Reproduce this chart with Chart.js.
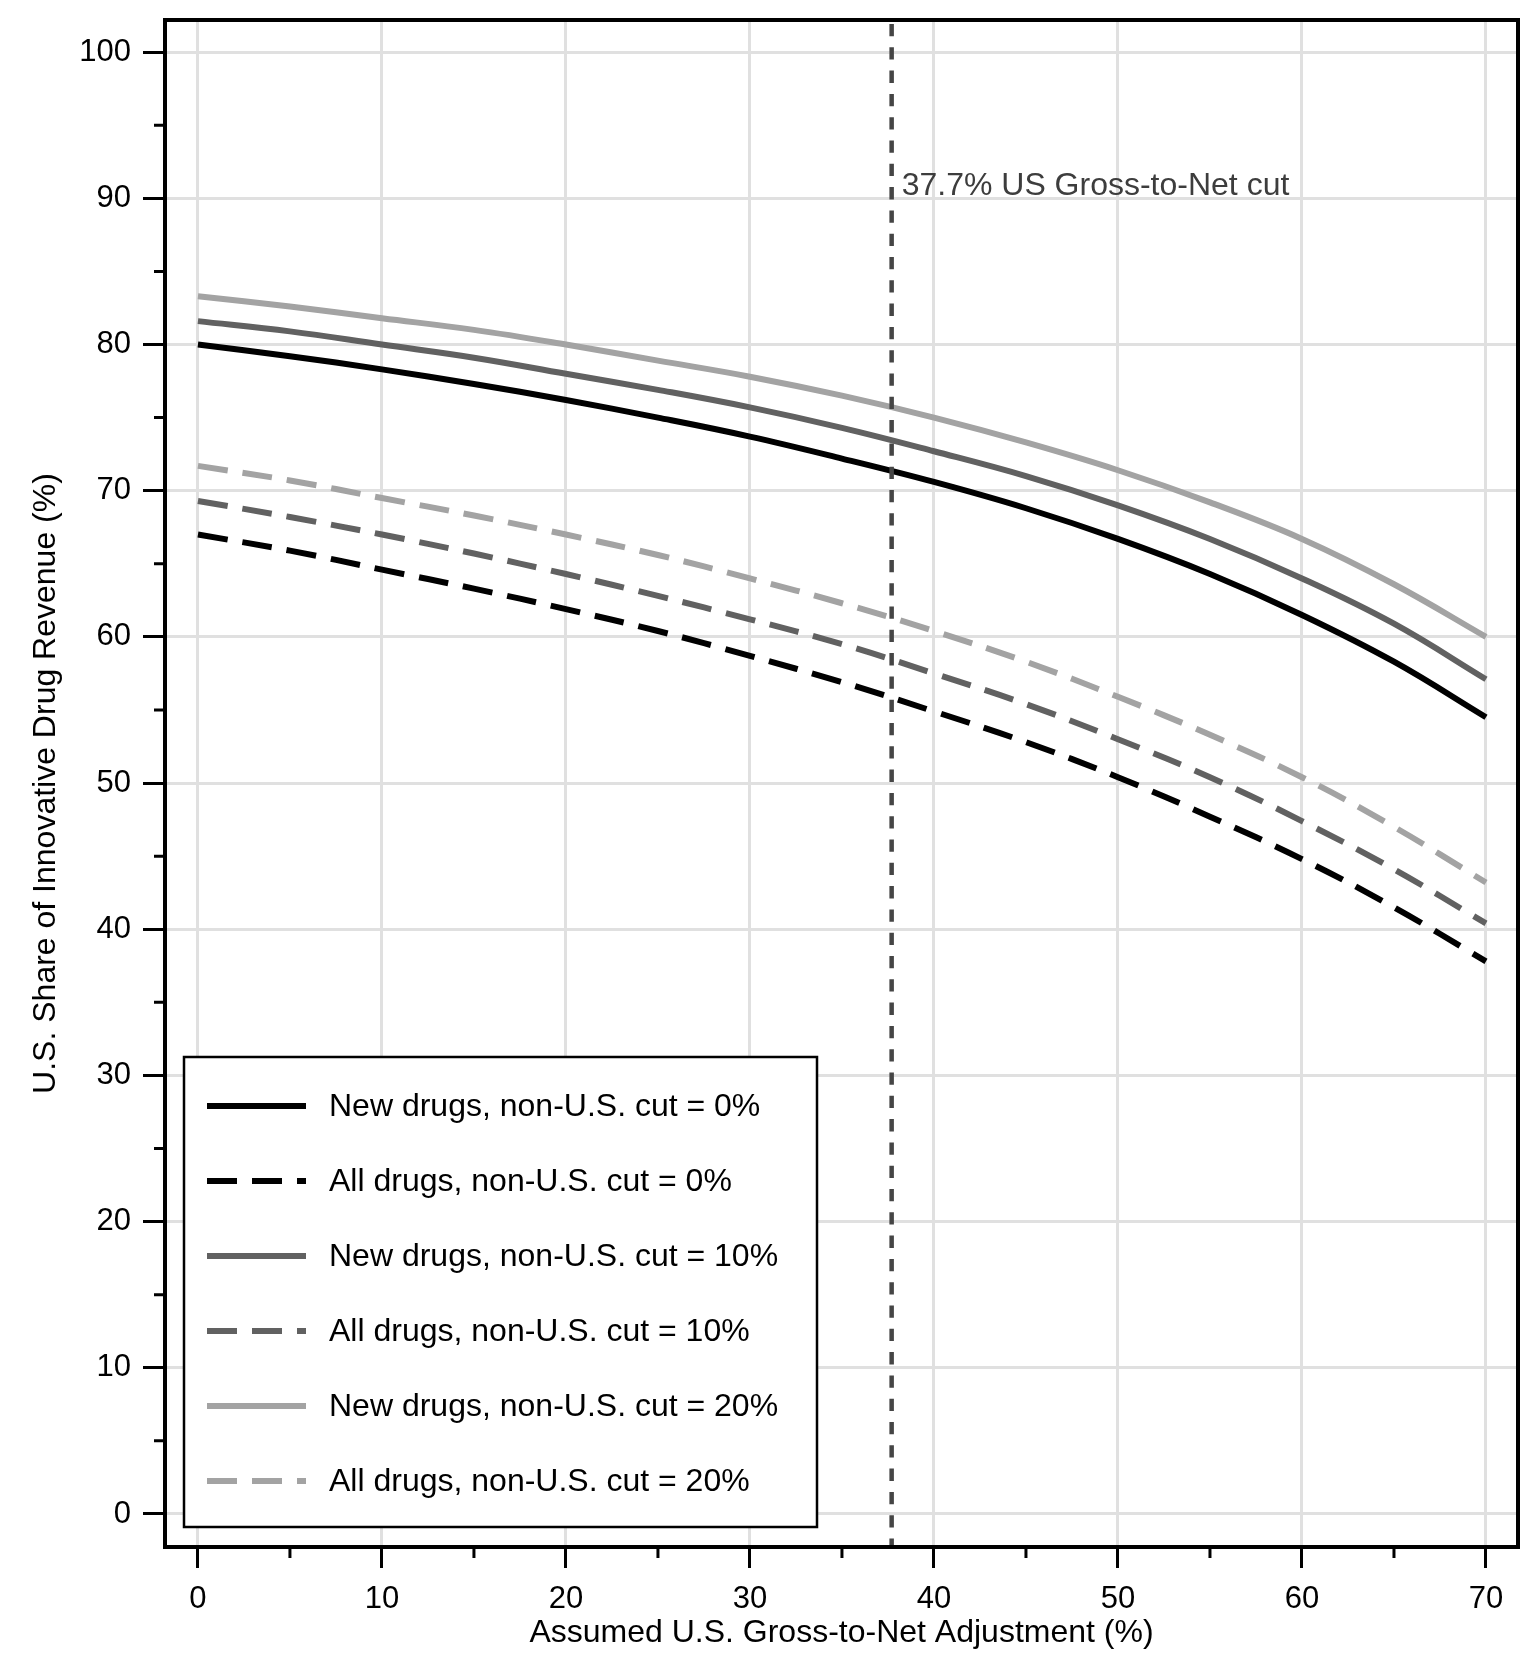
<!DOCTYPE html>
<html>
<head>
<meta charset="utf-8">
<script src="https://cdn.jsdelivr.net/npm/chart.js@4.4.1/dist/chart.umd.min.js"></script>
<style>
html,body{margin:0;padding:0;background:#ffffff;}
#wrap{width:1539px;height:1679px;position:relative;}
</style>
</head>
<body>
<div id="wrap"><canvas id="c" width="1539" height="1679"></canvas></div>
<script>
// ---------------- data ----------------
const xValues = [0, 5, 10, 15, 20, 25, 30, 35, 40, 45, 50, 55, 60, 65, 70];

const newDrugsCut0  = [80.0, 79.2, 78.3, 77.3, 76.2, 75.0, 73.7, 72.2, 70.6, 68.8, 66.7, 64.3, 61.5, 58.3, 54.5];
const allDrugsCut0  = [67.0, 65.9, 64.6, 63.3, 61.9, 60.4, 58.7, 56.9, 54.9, 52.8, 50.4, 47.7, 44.8, 41.5, 37.8];
const newDrugsCut10 = [81.6, 80.9, 80.0, 79.1, 78.0, 76.9, 75.7, 74.3, 72.7, 71.0, 69.0, 66.7, 64.0, 60.9, 57.1];
const allDrugsCut10 = [69.3, 68.2, 67.0, 65.7, 64.3, 62.8, 61.2, 59.5, 57.5, 55.4, 53.0, 50.4, 47.4, 44.1, 40.4];
const newDrugsCut20 = [83.3, 82.6, 81.8, 81.0, 80.0, 78.9, 77.8, 76.5, 75.0, 73.3, 71.4, 69.2, 66.7, 63.6, 60.0];
const allDrugsCut20 = [71.7, 70.7, 69.5, 68.3, 67.0, 65.6, 64.0, 62.3, 60.4, 58.3, 55.9, 53.3, 50.4, 47.0, 43.2];

const seriesLabels = [
  'New drugs, non-U.S. cut = 0%',
  'All drugs, non-U.S. cut = 0%',
  'New drugs, non-U.S. cut = 10%',
  'All drugs, non-U.S. cut = 10%',
  'New drugs, non-U.S. cut = 20%',
  'All drugs, non-U.S. cut = 20%'
];

const xTickValues = [0, 10, 20, 30, 40, 50, 60, 70];
const yTickValues = [0, 10, 20, 30, 40, 50, 60, 70, 80, 90, 100];
const xMinorTickValues = [5, 15, 25, 35, 45, 55, 65];
const yMinorTickValues = [5, 15, 25, 35, 45, 55, 65, 75, 85, 95];

const gtnCutValue = 37.7;
const gtnCutLabel = '37.7% US Gross-to-Net cut';
const gtnLabelAtY = 90;

const xAxisTitle = 'Assumed U.S. Gross-to-Net Adjustment (%)';
const yAxisTitle = 'U.S. Share of Innovative Drug Revenue (%)';

// ---------------- styling ----------------
const FONT = '"Liberation Sans", Arial, Helvetica, sans-serif';
const C_BLACK = '#000000';
const C_DARK = '#616161';
const C_LIGHT = '#a3a3a3';
const GRID = '#e0e0e0';
const LINE_W = 6;
const DASH = [30, 15];

function pts(ys) { return xValues.map((x, i) => ({ x: x, y: ys[i] })); }

const seriesValues = [newDrugsCut0, allDrugsCut0, newDrugsCut10, allDrugsCut10, newDrugsCut20, allDrugsCut20];
const seriesColors = [C_BLACK, C_BLACK, C_DARK, C_DARK, C_LIGHT, C_LIGHT];
const seriesDashed = [false, true, false, true, false, true];

const datasets = seriesValues.map((vals, i) => ({
  label: seriesLabels[i],
  data: pts(vals),
  borderColor: seriesColors[i],
  backgroundColor: seriesColors[i],
  borderWidth: LINE_W,
  borderDash: seriesDashed[i] ? DASH : [],
  pointRadius: 0,
  pointHoverRadius: 0,
  fill: false,
  tension: 0.4,
  borderCapStyle: 'butt',
  borderJoinStyle: 'round'
}));

// ---------------- decorations plugin ----------------
const decor = {
  id: 'decor',
  afterDatasetsDraw(chart) {
    const ctx = chart.ctx;
    const a = chart.chartArea;
    const xs = chart.scales.x, ys = chart.scales.y;

    // vertical reference line
    const gx = xs.getPixelForValue(gtnCutValue);
    ctx.save();
    ctx.strokeStyle = '#454545';
    ctx.lineWidth = 4.5;
    ctx.setLineDash([12.3, 11]);
    ctx.lineDashOffset = -4;
    ctx.beginPath();
    ctx.moveTo(gx, a.top);
    ctx.lineTo(gx, a.bottom);
    ctx.stroke();
    ctx.restore();

    // frame
    ctx.save();
    ctx.strokeStyle = '#000';
    ctx.lineWidth = 4;
    ctx.strokeRect(a.left, a.top, a.right - a.left, a.bottom - a.top);
    // minor ticks
    ctx.lineWidth = 3;
    ctx.beginPath();
    xMinorTickValues.forEach(v => {
      const p = xs.getPixelForValue(v);
      ctx.moveTo(p, a.bottom);
      ctx.lineTo(p, a.bottom + 11);
    });
    yMinorTickValues.forEach(v => {
      const p = ys.getPixelForValue(v);
      ctx.moveTo(a.left, p);
      ctx.lineTo(a.left - 11, p);
    });
    ctx.stroke();
    ctx.restore();

    // annotation text
    ctx.save();
    ctx.fillStyle = '#3d3d3d';
    ctx.font = '32px ' + FONT;
    ctx.textAlign = 'left';
    ctx.textBaseline = 'alphabetic';
    ctx.fillText(gtnCutLabel, gx + 10, ys.getPixelForValue(gtnLabelAtY) - 3);
    ctx.restore();

    // legend box
    const L = a.left + 19, R = L + 633, B = a.bottom - 20, T = B - 470;
    ctx.save();
    ctx.fillStyle = '#ffffff';
    ctx.fillRect(L, T, R - L, B - T);
    ctx.strokeStyle = '#000';
    ctx.lineWidth = 2.5;
    ctx.strokeRect(L, T, R - L, B - T);
    ctx.font = '32px ' + FONT;
    ctx.textBaseline = 'middle';
    ctx.textAlign = 'left';
    chart.data.datasets.forEach((ds, i) => {
      const cy = T + 49 + i * 75;
      ctx.strokeStyle = ds.borderColor;
      ctx.lineWidth = ds.borderWidth;
      ctx.setLineDash(ds.borderDash || []);
      ctx.lineDashOffset = 0;
      ctx.beginPath();
      ctx.moveTo(L + 23, cy);
      ctx.lineTo(L + 122, cy);
      ctx.stroke();
      ctx.setLineDash([]);
      ctx.fillStyle = '#000';
      ctx.fillText(ds.label, L + 145, cy + 1);
    });
    ctx.restore();
  }
};

// ---------------- chart ----------------
new Chart(document.getElementById('c'), {
  type: 'line',
  data: { datasets: datasets },
  plugins: [decor],
  options: {
    responsive: false,
    devicePixelRatio: 1,
    animation: false,
    events: [],
    layout: { padding: { left: 0, top: 20, right: 21, bottom: 0 } },
    plugins: {
      legend: { display: false },
      tooltip: { enabled: false }
    },
    scales: {
      x: {
        type: 'linear',
        min: -1.79,
        max: 71.74,
        afterFit(s) { s.height = 132; s.paddingLeft = 0; s.paddingRight = 0; s.paddingTop = 0; s.paddingBottom = 0; },
        afterBuildTicks(s) { s.ticks = xTickValues.map(v => ({ value: v })); },
        grid: {
          color: GRID,
          lineWidth: 3,
          drawTicks: true,
          tickLength: 21,
          tickColor: '#000',
          tickWidth: 3
        },
        border: { display: false },
        ticks: {
          color: '#000',
          font: { family: FONT, size: 31, lineHeight: 1.2 },
          padding: 13,
          maxRotation: 0,
          autoSkip: false,
          callback: v => String(v)
        },
        title: {
          display: true,
          text: xAxisTitle,
          color: '#000',
          font: { family: FONT, size: 32, lineHeight: 1.2 },
          padding: { top: 0, bottom: 27 }
        }
      },
      y: {
        type: 'linear',
        min: -2.26,
        max: 102.2,
        afterFit(s) { s.width = 165; s.paddingLeft = 0; s.paddingRight = 0; s.paddingTop = 0; s.paddingBottom = 0; },
        afterBuildTicks(s) { s.ticks = yTickValues.map(v => ({ value: v })); },
        grid: {
          color: GRID,
          lineWidth: 3,
          drawTicks: true,
          tickLength: 22,
          tickColor: '#000',
          tickWidth: 3
        },
        border: { display: false },
        ticks: {
          color: '#000',
          font: { family: FONT, size: 31, lineHeight: 1.2 },
          padding: 12,
          autoSkip: false,
          callback: v => String(v)
        },
        title: {
          display: true,
          text: yAxisTitle,
          color: '#000',
          font: { family: FONT, size: 32, lineHeight: 1.2 },
          padding: { top: 27, bottom: 0 }
        }
      }
    }
  }
});
</script>
</body>
</html>
